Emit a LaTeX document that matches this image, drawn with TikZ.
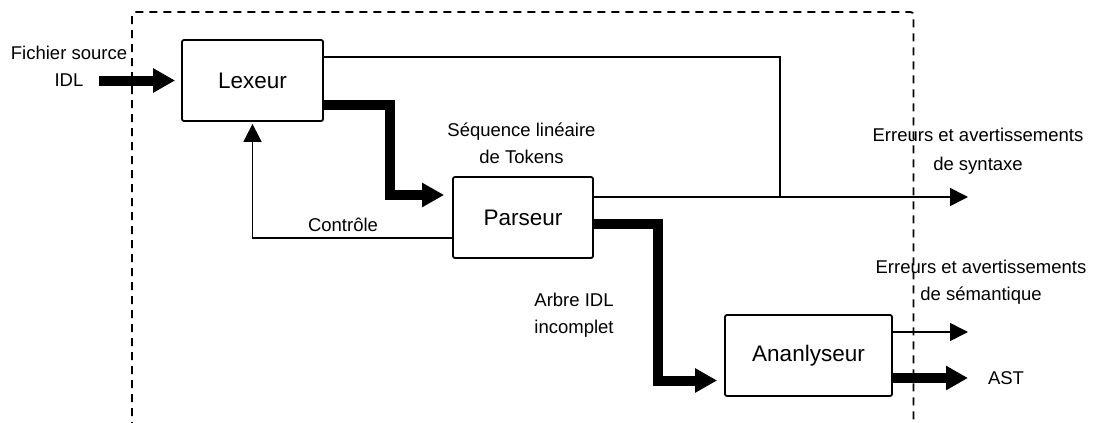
\documentclass[tikz,border=0pt]{standalone}
\usepackage{fontspec}
\setmainfont{Liberation Sans}
\usetikzlibrary{arrows.meta}
\begin{document}
\begin{tikzpicture}[x=1pt,y=-1pt,
  block/.style={draw,line width=1.8pt,rounded corners=2pt,font=\fontsize{22.5}{27}\selectfont},
  lbl/.style={align=center,font=\fontsize{18.5}{27}\selectfont,inner sep=0pt},
  thin/.style={line width=1.6pt,-{Triangle[length=18pt,width=18pt]}},
  thick/.style={line width=10pt,line join=miter,-{Triangle[length=22pt,width=23pt]}},
  frame/.style={line width=1.8pt,dash pattern=on 8pt off 6pt,rounded corners=3pt}]
\useasboundingbox (0,0) rectangle (1093,423);
\draw[frame] (132,430) -- (132,12) -- (913.5,12) -- (913.5,430);
\node[block,minimum width=141pt,minimum height=81pt] (lex) at (252.5,80.5) {Lexeur};
\node[block,minimum width=140pt,minimum height=81pt] (par) at (523,217.5) {Parseur};
\node[block,minimum width=167pt,minimum height=81pt] (ana) at (808.5,355.5) {Ananlyseur};
\coordinate (in) at (99,80.5);
\coordinate (c1) at (390,150);
\coordinate (c2) at (658,300);
\coordinate (j) at (780,197);
\coordinate (synend) at (968,197);
\coordinate (semend) at (968,332);
\coordinate (astend) at (968,378);
\draw[thick,shorten >=6pt] (in) -- (lex.west);
\draw[thick,shorten >=8pt] ([yshift=-24.5pt]lex.east) -| (c1) |- ([yshift=22.5pt]par.west);
\draw[thin,shorten >=2pt] ([yshift=-20.5pt]par.west) -| (lex.south);
\draw[line width=1.6pt] ([yshift=23.5pt]lex.east) -| (j);
\draw[thin] ([yshift=20.5pt]par.east) -- (synend);
\draw[thick,shorten >=7pt] ([yshift=-6.5pt]par.east) -| (c2) |- ([yshift=-25pt]ana.west);
\draw[thin] ([yshift=23.5pt]ana.east) -- (semend);
\draw[thick] ([yshift=-22.5pt]ana.east) -- (astend);
\node[lbl] (l1) at (69,66.5) {Fichier source\\IDL};
\node[lbl] (l2) at (521.5,143.5) {Séquence linéaire\\de Tokens};
\node[lbl] (l3) at (343,225) {Contrôle};
\node[lbl,font=\fontsize{18.5}{29}\selectfont] (l4) at (978,151) {Erreurs et avertissements\\de syntaxe};
\node[lbl] (l5) at (981,282.5) {Erreurs et avertissements\\de sémantique};
\node[lbl] (l6) at (574,315.5) {Arbre IDL\\incomplet};
\node[lbl] (l7) at (1006,378) {AST};
\end{tikzpicture}
\end{document}
